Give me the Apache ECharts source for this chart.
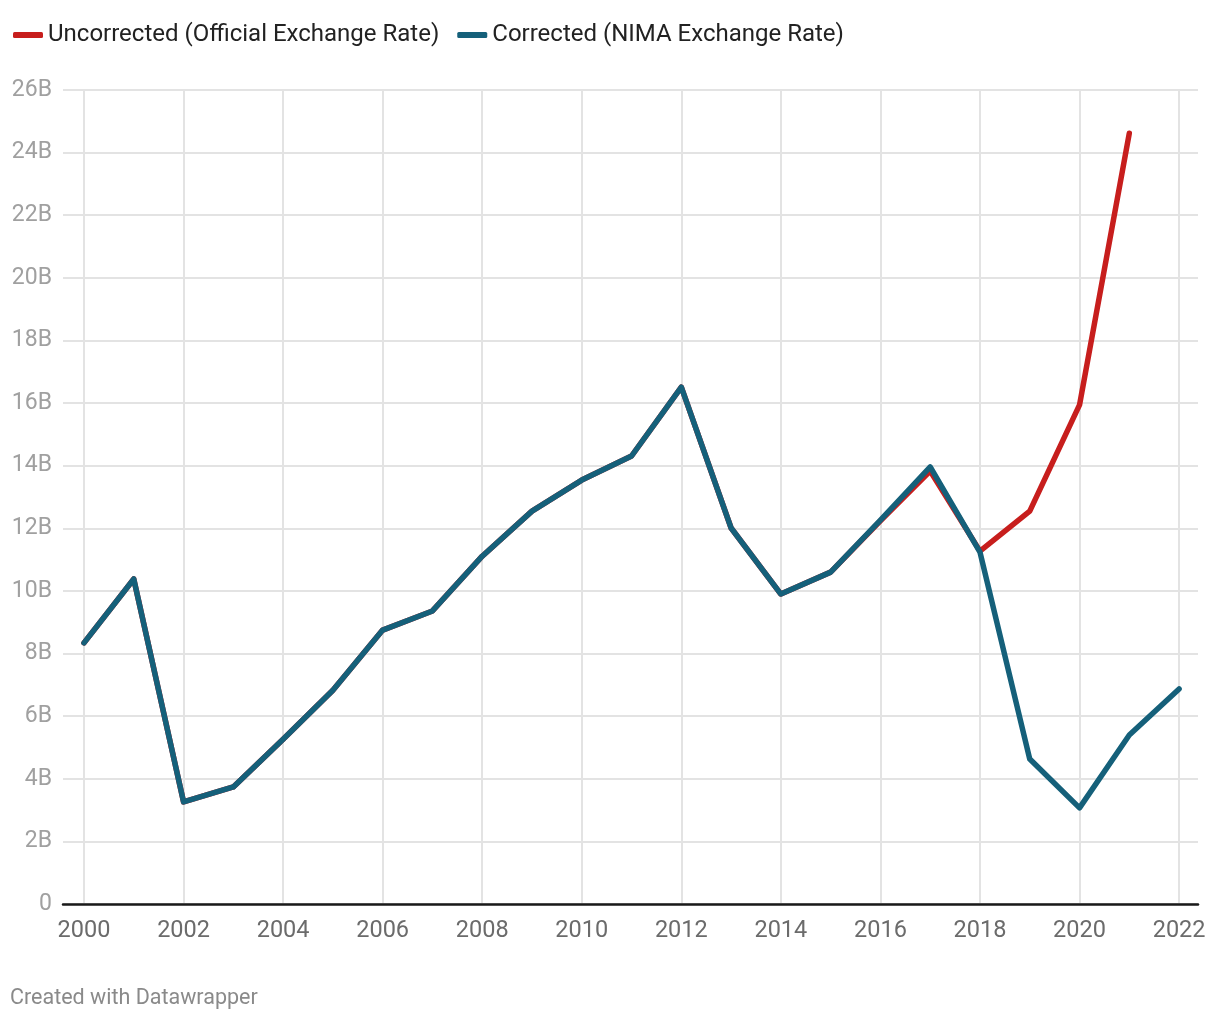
<!DOCTYPE html>
<html><head><meta charset="utf-8">
<script src="https://cdn.jsdelivr.net/npm/echarts@6/dist/echarts.min.js"></script>
<style>html,body{margin:0;padding:0;background:#fff}#c{width:1220px;height:1020px}</style>
</head><body><div id="c"></div>
<script>
const years = [2000,2001,2002,2003,2004,2005,2006,2007,2008,2009,2010,2011,2012,2013,2014,2015,2016,2017,2018,2019,2020,2021,2022];
const uncorrected = [8.34,10.38,3.26,3.74,5.26,6.83,8.75,9.36,11.11,12.55,13.54,14.31,16.51,12.01,9.90,10.60,12.24,13.83,11.27,12.55,15.94,24.62,null];
const corrected   = [8.34,10.38,3.26,3.74,5.26,6.83,8.75,9.36,11.11,12.55,13.54,14.31,16.51,12.01,9.90,10.60,12.26,13.96,11.24,4.63,3.07,5.40,6.87];
const xTicks = [2000,2002,2004,2006,2008,2010,2012,2014,2016,2018,2020,2022];
const seriesNames = ['Uncorrected (Official Exchange Rate)','Corrected (NIMA Exchange Rate)'];

const chart = echarts.init(document.getElementById('c'));
const pair = arr => years.map((y,i)=>[y,arr[i]]).filter(d=>d[1]!==null);
chart.setOption({
  animation:false,
  textStyle:{fontFamily:'Roboto'},
  legend:{left:8,top:18,itemWidth:30,itemHeight:6,itemGap:18,icon:'roundRect',
    textStyle:{fontSize:24,color:'#222',fontFamily:'Roboto'},data:seriesNames},
  graphic:[{type:'text',left:10,top:988,style:{text:'Created with Datawrapper',fontSize:21.5,fill:'#8a8a8a',fontFamily:'Roboto'}}],
  grid:{left:63,right:22,top:90,bottom:116},
  xAxis:{type:'value',min:1999.578,max:2022.38,
    axisLine:{show:true,onZero:false,lineStyle:{color:'#1a1a1a',width:2.5}},
    axisTick:{show:false,customValues:xTicks},
    axisLabel:{customValues:xTicks,fontSize:23.5,color:'#6b6b6b',margin:15,formatter:v=>String(v)},
    splitLine:{show:true,lineStyle:{color:'#e3e3e3',width:2}}},
  yAxis:{type:'value',min:0,max:26,interval:2,
    axisLine:{show:false},axisTick:{show:false},
    axisLabel:{fontSize:23,color:'#a0a0a0',margin:11,formatter:v=>v===0?'0':v+'B'},
    splitLine:{lineStyle:{color:'#e3e3e3',width:2}}},
  series:[
    {name:seriesNames[0],type:'line',data:pair(uncorrected),showSymbol:false,color:'#c71e1d',
      lineStyle:{width:5.5,color:'#c71e1d',cap:'round',join:'round'},z:2},
    {name:seriesNames[1],type:'line',data:pair(corrected),showSymbol:false,color:'#15607a',
      lineStyle:{width:5.5,color:'#15607a',cap:'round',join:'round'},z:3}
  ]
});
</script></body></html>
